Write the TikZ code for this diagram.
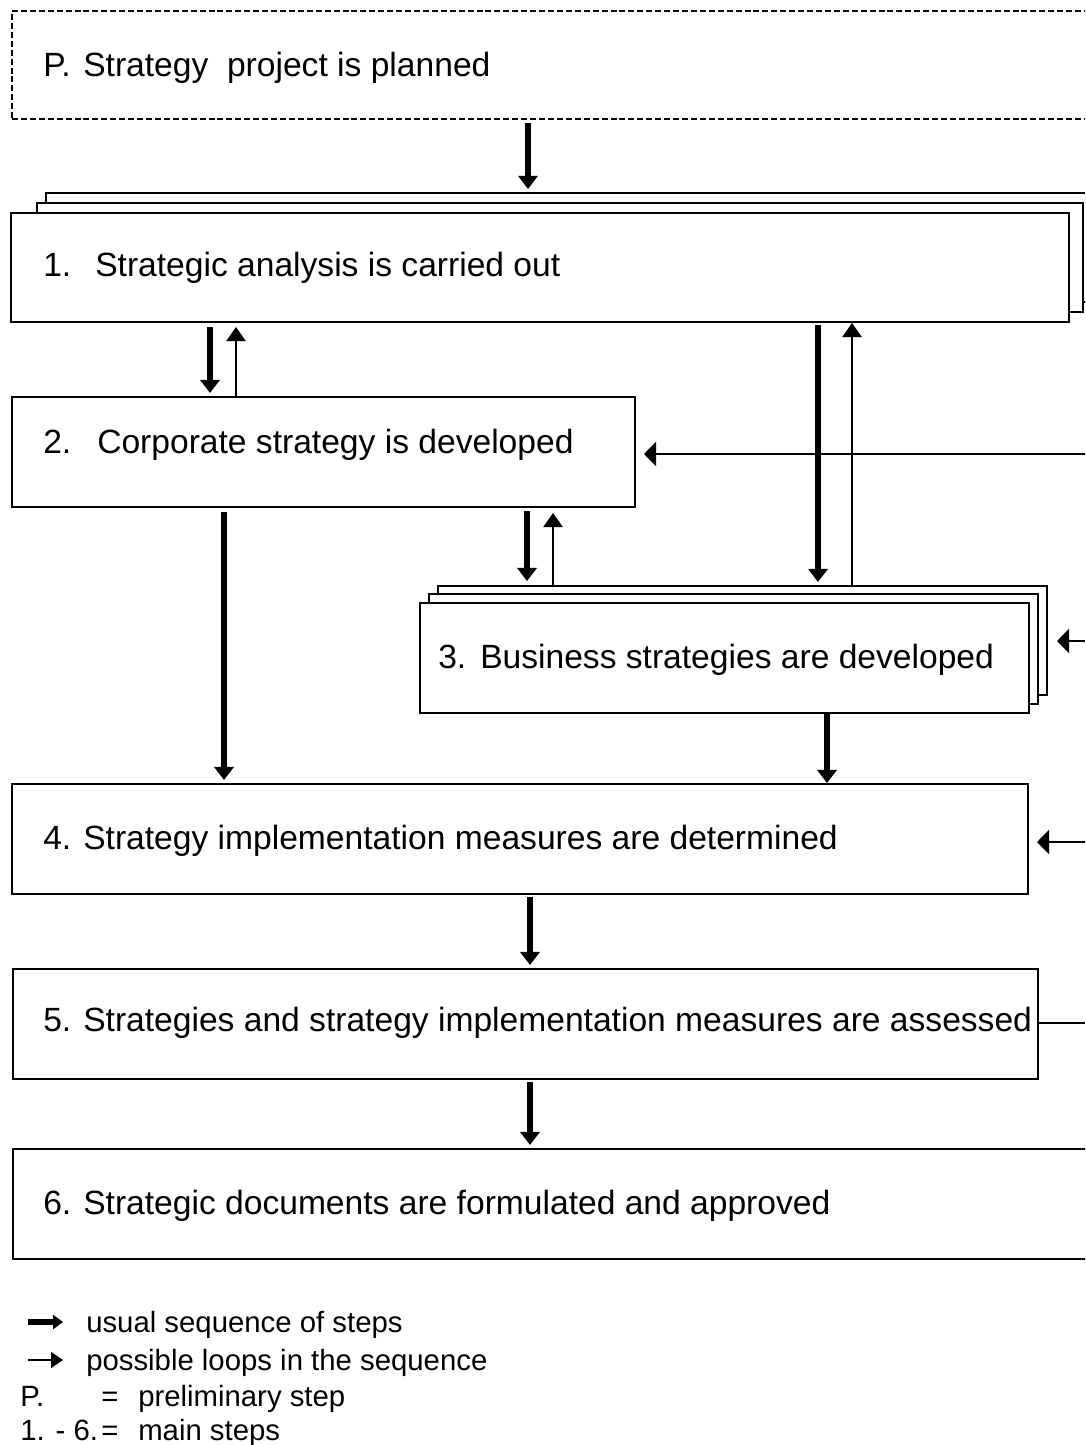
\documentclass[tikz,border=0pt]{standalone}
\usepackage{fontspec}
\setmainfont{Liberation Sans}
\usetikzlibrary{arrows.meta,calc}
\begin{document}
\begin{tikzpicture}[x=0.75pt,y=-0.75pt,
  stepbox/.style={draw=black,line width=1.1pt,fill=white,rectangle,inner sep=0pt,outer sep=0pt,anchor=north west},
  planbox/.style={stepbox,line width=0.8pt,dash pattern=on 4.5pt off 2.2pt},
  steptext/.style={anchor=base west,inner sep=0pt,font=\fontsize{25.2}{30}\selectfont},
  legendtext/.style={anchor=base west,inner sep=0pt,font=\fontsize{22}{26}\selectfont},
  usual/.style={line width=5.2pt,-{Triangle[width=14.3pt,length=9.8pt]}},
  loopback/.style={line width=1.5pt,-{Triangle[width=14.3pt,length=10.5pt]}},
  sideloop/.style={line width=1.1pt,-{Triangle[width=18pt,length=9pt]}},
  legendusual/.style={line width=3.8pt,-{Triangle[width=10.5pt,length=7.5pt]}},
  legendloop/.style={line width=1.2pt,-{Triangle[width=12pt,length=9pt]}}
]
\useasboundingbox (0,0) rectangle (1085,1445);
\clip (0,0) rectangle (1085,1445);

% preliminary step
\node[planbox,minimum width=1088*0.75pt,minimum height=108*0.75pt] (P) at (12,11) {};
\node[steptext] (Pn) at (43,76) {P.};
\node[steptext] (Pt) at (83,76) {Strategy\ \ project is planned};

% step 1 (stacked)
\node[stepbox,minimum width=1054*0.75pt,minimum height=109*0.75pt] (s1c) at (46,193) {};
\node[stepbox,minimum width=1046*0.75pt,minimum height=109*0.75pt] (s1b) at (37,203) {};
\node[stepbox,minimum width=1058*0.75pt,minimum height=109*0.75pt] (s1) at (11,213) {};
\node[steptext] (s1n) at (43,276) {1.};
\node[steptext] (s1t) at (95,276) {Strategic analysis is carried out};

% step 2
\node[stepbox,minimum width=623*0.75pt,minimum height=110*0.75pt] (s2) at (12,397) {};
\node[steptext] (s2n) at (43,453) {2.};
\node[steptext] (s2t) at (97,453) {Corporate strategy is developed};

% step 3 (stacked)
\node[stepbox,minimum width=609*0.75pt,minimum height=109*0.75pt] (s3c) at (438,586) {};
\node[stepbox,minimum width=609*0.75pt,minimum height=110*0.75pt] (s3b) at (429,594) {};
\node[stepbox,minimum width=609*0.75pt,minimum height=110*0.75pt] (s3) at (420,603) {};
\node[steptext] (s3n) at (438,668) {3.};
\node[steptext] (s3t) at (480,668) {Business strategies are developed};

% step 4
\node[stepbox,minimum width=1016*0.75pt,minimum height=110*0.75pt] (s4) at (12,784) {};
\node[steptext] (s4n) at (43,849) {4.};
\node[steptext] (s4t) at (83,849) {Strategy implementation measures are determined};

% step 5
\node[stepbox,minimum width=1025*0.75pt,minimum height=110*0.75pt] (s5) at (13,969) {};
\node[steptext] (s5n) at (43,1031) {5.};
\node[steptext] (s5t) at (83,1031) {Strategies and strategy implementation measures are assessed};

% step 6
\node[stepbox,minimum width=1087*0.75pt,minimum height=110*0.75pt] (s6) at (13,1149) {};
\node[steptext] (s6n) at (43,1214) {6.};
\node[steptext] (s6t) at (83,1214) {Strategic documents are formulated and approved};

% columns of the vertical connectors
\coordinate (xP) at (528,0);
\coordinate (x12d) at (210,0);
\coordinate (x12u) at (236,0);
\coordinate (x13d) at (818,0);
\coordinate (x13u) at (852,0);
\coordinate (x23d) at (527,0);
\coordinate (x23u) at (553,0);
\coordinate (x24) at (224,0);
\coordinate (x34) at (827,0);
\coordinate (x45) at (530,0);

% usual sequence
\draw[usual,shorten <=3pt,shorten >=3pt] (xP |- P.south) -- (xP |- s1c.north);
\draw[usual,shorten <=3.75pt,shorten >=3pt] (x12d |- s1.south) -- (x12d |- s2.north);
\draw[usual,shorten <=2.25pt,shorten >=3pt] (x13d |- s1.south) -- (x13d |- s3c.north);
\draw[usual,shorten <=3pt,shorten >=3.75pt] (x23d |- s2.south) -- (x23d |- s3c.north);
\draw[usual,shorten <=3.75pt,shorten >=3pt] (x24 |- s2.south) -- (x24 |- s4.north);
\draw[usual,shorten >=0.75pt] (x34 |- s3.south) -- (x34 |- s4.north);
\draw[usual,shorten <=2.25pt,shorten >=3pt] (x45 |- s4.south) -- (x45 |- s5.north);
\draw[usual,shorten <=2.25pt,shorten >=3pt] (x45 |- s5.south) -- (x45 |- s6.north);

% possible loops
\draw[loopback,shorten >=3.75pt] (x12u |- s2.north) -- (x12u |- s1.south);
\draw[loopback,shorten >=0.75pt] (x13u |- s3c.north) -- (x13u |- s1.south);
\draw[loopback,shorten >=4.5pt] (x23u |- s3c.north) -- (x23u |- s2.south);

% loops returning from the right
\coordinate (r2) at (1085,454);
\coordinate (r3) at (1085,641);
\coordinate (r4) at (1085,842);
\coordinate (r5) at (1085,1023);
\draw[sideloop,shorten >=6.75pt] (r2) -- (r2 -| s2.east);
\draw[sideloop,shorten >=7.5pt] (r3) -- (r3 -| s3c.east);
\draw[sideloop,shorten >=6.75pt] (r4) -- (r4 -| s4.east);
\draw[line width=1.1pt] (r5 -| s5.east) -- (r5);

% legend
\coordinate (la1) at (28,1322);
\coordinate (lb1) at (63,1322);
\coordinate (la2) at (28,1360);
\coordinate (lb2) at (63,1360);
\draw[legendusual] (la1) -- (lb1);
\draw[legendloop] (la2) -- (lb2);
\node[legendtext] (lg1) at (86,1332) {usual sequence of steps};
\node[legendtext] (lg2) at (86,1370) {possible loops in the sequence};
\node[legendtext] (lg3a) at (20,1406) {P.};
\node[legendtext] (lg3b) at (101,1406) {=};
\node[legendtext] (lg3c) at (138,1406) {preliminary step};
\node[legendtext] (lg4a) at (20,1440) {1. - 6.};
\node[legendtext] (lg4b) at (101,1440) {=};
\node[legendtext] (lg4c) at (138,1440) {main steps};
\end{tikzpicture}
\end{document}
